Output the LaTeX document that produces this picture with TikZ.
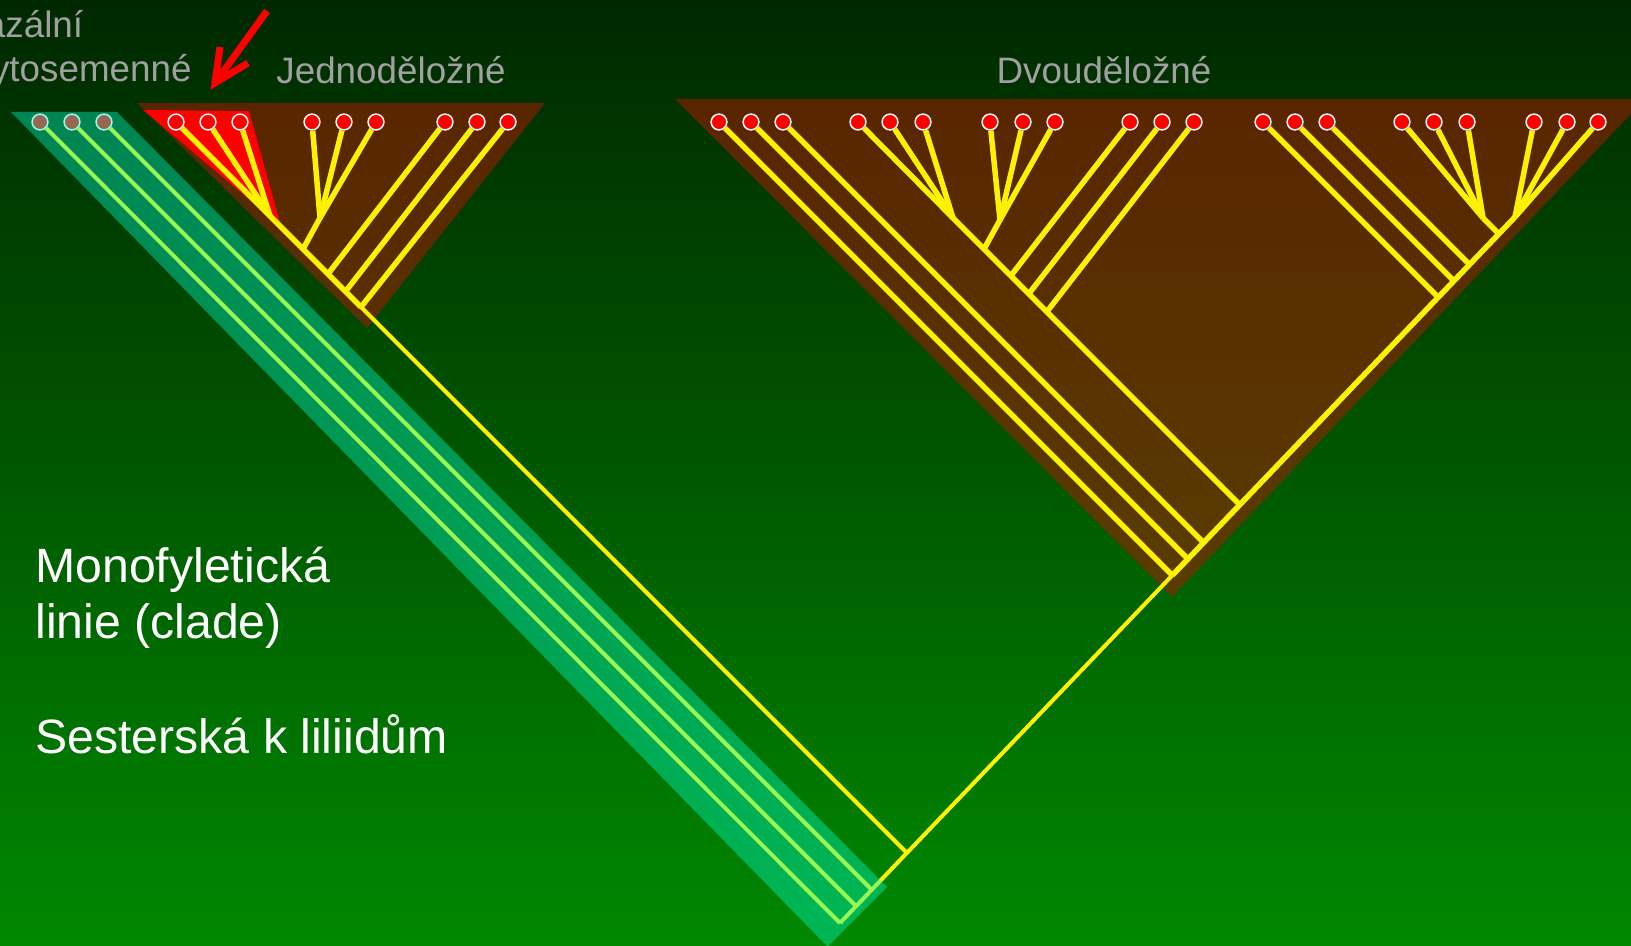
\documentclass[tikz,border=0pt]{standalone}
\usepackage{fontspec}
\setmainfont{Liberation Sans}
\definecolor{bgtop}{RGB}{0,40,0}
\definecolor{bgbottom}{RGB}{0,136,0}
\definecolor{cladebrown}{RGB}{172,26,0}
\definecolor{aqua}{RGB}{0,255,212}
\definecolor{labgray}{RGB}{160,160,160}
\begin{document}
\begin{tikzpicture}[x=0.5pt,y=-0.5pt,
  leaf/.style={circle,fill=red,draw=white,line width=0.75pt,minimum size=7.9pt,inner sep=0pt},
  branch/.style={draw=yellow,line width=2.75pt},
  stem/.style={draw=yellow,line width=2pt},
  clade/.style={fill=cladebrown,fill opacity=0.52},
  grade/.style={fill=aqua,fill opacity=0.4},
  pointer/.style={draw=red,line width=3.5pt},
  grouplabel/.style={text=labgray,font=\fontsize{18.4pt}{22pt}\selectfont,anchor=base,inner sep=0pt},
  sidelabel/.style={text=labgray,font=\fontsize{18.4pt}{22pt}\selectfont,anchor=base west,inner sep=0pt},
  note/.style={text=white,font=\fontsize{24.1pt}{28pt}\selectfont,anchor=base west,inner sep=0pt},
]
\useasboundingbox (0,0) rectangle (1631,946);
\clip (0,0) rectangle (1631,946);

% background
\shade[top color=bgtop,bottom color=bgbottom] (0,0) rectangle (1631,946);

% clade areas
\fill[clade] (137,103) -- (545,103) -- (367,328) -- cycle;
\fill[clade] (675,99) -- (1645,99) -- (1172,597) -- cycle;
\fill[red] (143,110) -- (249,111) -- (281,226) -- cycle;

% leaves
\foreach \x [count=\i] in {40,72,104}
  \node[leaf] (b\i) at (\x,122) {};
\foreach \x [count=\i] in {176,208,240,312,344,376,445,477,508}
  \node[leaf] (m\i) at (\x,122) {};
\foreach \x [count=\i] in {719,751,783,858,890,923,990,1023,1055,1130,1162,1194,1263,1295,1327,1402,1434,1467,1534,1567,1598}
  \node[leaf] (d\i) at (\x,122) {};

% branching points
\coordinate (root) at (840,923);
\coordinate (sb2) at (856.1,906.1);
\coordinate (sb3) at (871.7,889.7);
\coordinate (sm) at (906.9,852.9);
\coordinate (sd1) at (1172.3,575.3);
\coordinate (sd2) at (1188,559);
\coordinate (sd3) at (1203.6,542.6);
\coordinate (sdi) at (1239.8,504.8);
\coordinate (sr1) at (1438.2,297.2);
\coordinate (sr2) at (1453.9,280.9);
\coordinate (sr3) at (1469.5,264.5);
\coordinate (sr4) at (1499,234);
\coordinate (top) at (1515,217);
\coordinate (mr) at (270,216);
\coordinate (mg) at (320,218);
\coordinate (mj2) at (303,249);
\coordinate (mj3) at (328,274);
\coordinate (mj4) at (345.5,291.5);
\coordinate (mj5) at (361,307);
\coordinate (dr) at (953,218);
\coordinate (dg) at (1000,220);
\coordinate (dj2) at (984,249);
\coordinate (dj3) at (1010.8,275.8);
\coordinate (dj4) at (1028.8,293.8);
\coordinate (dj5) at (1046.8,311.8);
\coordinate (rg) at (1483,218);

% basal lineages and main spine
\draw[stem] (b1) -- (root);
\draw[stem] (b2) -- (sb2);
\draw[stem] (b3) -- (sb3);
\draw[stem] (root) -- (sm) -- (sd1);
\draw[branch] (sd1) -- (top);

% monocots
\draw[branch] (m1) -- (mr) -- (mj5);
\draw[stem] (mj5) -- (sm);
\draw[branch] (m2) -- (mr);
\draw[branch] (m3) -- (mr);
\draw[branch] (m4) -- (mg);
\draw[branch] (m5) -- (mg);
\draw[branch] (m6) -- (mg);
\draw[branch] (mg) -- (mj2);
\draw[branch] (m7) -- (mj3);
\draw[branch] (m8) -- (mj4);
\draw[branch] (m9) -- (mj5);

% dicots
\draw[branch] (d1) -- (sd1);
\draw[branch] (d2) -- (sd2);
\draw[branch] (d3) -- (sd3);
\draw[branch] (d4) -- (dr) -- (sdi);
\draw[branch] (d5) -- (dr);
\draw[branch] (d6) -- (dr);
\draw[branch] (d7) -- (dg);
\draw[branch] (d8) -- (dg);
\draw[branch] (d9) -- (dg);
\draw[branch] (dg) -- (dj2);
\draw[branch] (d10) -- (dj3);
\draw[branch] (d11) -- (dj4);
\draw[branch] (d12) -- (dj5);
\draw[branch] (d13) -- (sr1);
\draw[branch] (d14) -- (sr2);
\draw[branch] (d15) -- (sr3);
\draw[branch] (d16) -- (rg);
\draw[branch] (d17) -- (rg);
\draw[branch] (d18) -- (rg);
\draw[branch] (rg) -- (sr4);
\draw[branch] (d19) -- (top);
\draw[branch] (d20) -- (top);
\draw[branch] (d21) -- (top);

% basal grade overlay
\fill[grade] (11,112) -- (117,112) -- (887,887) -- (827.5,946.5) -- cycle;

% labels
\node[sidelabel] (basal1) at (-40,38) {Bazální};
\node[sidelabel] (basal2) at (-40,82) {krytosemenné};
\node[grouplabel] (mono) at (391,84) {Jednoděložné};
\node[grouplabel] (dico) at (1104,84) {Dvouděložné};
\node[note] (note1) at (35,582) {Monofyletická};
\node[note] (note2) at (35,638) {linie (clade)};
\node[note] (note3) at (35,753) {Sesterská k liliidům};

% pointer arrow
\coordinate (atail) at (267,11);
\coordinate (atip) at (215,83);
\coordinate (abarb1) at (220,47);
\coordinate (abarb2) at (248,63);
\draw[pointer] (atail) -- (atip);
\draw[pointer,line join=miter] (abarb1) -- (atip) -- (abarb2);
\end{tikzpicture}
\end{document}
